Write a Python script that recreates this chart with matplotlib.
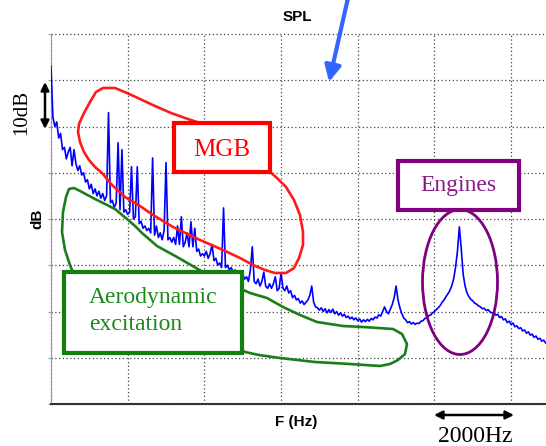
import numpy as np
import matplotlib.pyplot as plt
from matplotlib.patches import Rectangle, Ellipse

# SPECTRE SPL (dB), UN POINT TOUS LES 50 Hz
freq = np.arange(0, 12901, 50)
level = [
    73.0, 62.0, 60.0, 61.0, 57.5, 58.5, 55.0, 55.5, 53.0, 54.5,
    55.5, 51.5, 55.0, 52.0, 50.5, 51.5, 49.5, 50.0, 48.0, 48.5,
    46.5, 47.5, 45.5, 46.5, 45.0, 46.0, 44.5, 45.5, 44.0, 45.0,
    63.0, 43.5, 44.0, 42.5, 43.5, 56.5, 42.0, 55.0, 41.5, 42.0,
    41.0, 41.5, 51.3, 40.0, 40.5, 51.3, 39.0, 39.5, 38.0, 38.5,
    37.5, 38.0, 37.0, 53.2, 36.5, 38.5, 36.0, 37.0, 35.5, 37.5,
    52.2, 35.5, 36.0, 35.0, 36.0, 34.5, 38.5, 34.5, 40.5, 34.0,
    35.0, 37.0, 34.0, 39.4, 34.0, 38.0, 33.0, 33.5, 32.0, 32.5,
    32.0, 33.0, 31.5, 32.5, 34.5, 31.0, 31.5, 30.0, 30.5, 29.5,
    42.4, 29.5, 30.0, 29.0, 29.5, 28.5, 29.0, 28.0, 28.5, 27.5,
    28.0, 27.0, 27.5, 26.5, 29.0, 34.0, 26.5, 26.0, 27.0, 25.5,
    26.5, 28.5, 25.5, 25.0, 26.0, 25.0, 26.0, 27.5, 24.5, 25.0,
    28.4, 25.0, 24.5, 25.5, 24.0, 24.5, 23.0, 23.5, 22.5, 22.8,
    21.8, 22.3, 21.5, 22.0, 22.5, 23.5, 25.5, 22.0, 21.0, 20.8,
    20.3, 20.8, 20.0, 20.6, 19.7, 20.4, 19.8, 20.5, 19.5, 20.0,
    19.2, 19.7, 19.0, 19.4, 18.7, 19.0, 18.4, 18.8, 18.2, 18.6,
    18.0, 18.4, 17.7, 18.2, 17.8, 18.3, 17.9, 18.5, 18.2, 18.8,
    18.6, 19.3, 19.0, 20.0, 21.0, 20.0, 19.5, 20.5, 21.5, 23.0,
    25.5, 22.5, 20.8, 19.5, 18.6, 18.2, 17.6, 17.8, 17.3, 17.6,
    17.2, 17.5, 17.4, 17.9, 18.0, 18.5, 18.6, 19.1, 19.2, 19.7,
    20.0, 20.4, 20.8, 21.3, 22.0, 22.5, 23.2, 23.8, 24.5, 25.5,
    27.0, 29.5, 33.0, 38.3, 33.5, 28.0, 25.5, 24.0, 23.2, 22.6,
    22.3, 21.8, 21.6, 21.2, 21.0, 20.6, 20.7, 20.2, 20.4, 19.9,
    19.7, 19.8, 19.2, 19.4, 18.7, 18.9, 18.2, 18.4, 17.6, 17.9,
    17.2, 17.5, 16.7, 16.9, 16.3, 16.5, 15.8, 16.0, 15.3, 15.6,
    14.9, 15.1, 14.4, 14.7, 14.0, 14.2, 13.6, 13.8, 13.2,
]

x_grid = [0, 2000, 4000, 6000, 8000, 10000, 12000]
y_grid = [0, 10, 20, 30, 40, 50, 60, 70, 80]

fig = plt.figure(figsize=(5.46, 4.46), dpi=100)
ax = fig.add_axes([51 / 546, 42 / 446, 495 / 546, 370 / 446])
ax.plot(freq, level, color='#0000ff', lw=1.2, zorder=3)
ax.set_xlim(0, 12910)
ax.set_ylim(0, 80)
ax.set_xticks(x_grid)
ax.set_yticks(y_grid)
ax.tick_params(labelleft=False, labelbottom=False, bottom=False,
               left=True, length=2, color='#999999')
ax.grid(True, ls=(0, (1, 2)), color='#444444', lw=0.9)
for g in ax.get_ygridlines() + ax.get_xgridlines():
    g.set_clip_on(False)
ax.spines['top'].set_visible(False)
ax.spines['right'].set_visible(False)
ax.spines['left'].set_color('#999999')
ax.spines['bottom'].set_color('#333333')
ax.spines['bottom'].set_linewidth(1.5)

# CALQUE D'ANNOTATIONS EN PIXELS
ov = fig.add_axes([0, 0, 1, 1])
ov.set_xlim(0, 546)
ov.set_ylim(446, 0)
ov.axis('off')
ov.patch.set_alpha(0)

ov.text(297, 17, 'SPL', family='Liberation Sans', weight='bold', fontsize=11,
        ha='center', va='center')
ov.text(296, 422, 'F (Hz)', family='Liberation Sans', weight='bold', fontsize=11,
        ha='center', va='center')
ov.text(37, 219, 'dB', family='Liberation Sans', weight='bold', fontsize=11,
        ha='center', va='center', rotation=90)
ov.text(22, 112, '10dB', family='Liberation Serif', fontsize=15,
        ha='center', va='center', rotation=90)
ov.text(475, 437, '2000Hz', family='Liberation Serif', fontsize=17,
        ha='center', va='center')

ov.annotate('', xy=(45, 82), xytext=(45, 129),
            arrowprops=dict(arrowstyle='<|-|>', color='k', lw=1.8,
                            mutation_scale=12, shrinkA=0, shrinkB=0))
ov.annotate('', xy=(434, 415), xytext=(514, 415),
            arrowprops=dict(arrowstyle='<|-|>', color='k', lw=1.8,
                            mutation_scale=12, shrinkA=0, shrinkB=0))
ov.annotate('', xy=(329, 82), xytext=(348, -2),
            arrowprops=dict(arrowstyle='-|>', color='#3366ff', lw=3,
                            mutation_scale=24, shrinkA=0, shrinkB=0))

# MGB
red_x = [200, 185, 171, 155, 140, 127, 115, 103, 96, 90, 84, 79, 78, 80, 84, 89,
         95, 102, 112, 125, 140, 153, 173, 200, 223, 240, 253, 265, 275, 286,
         294, 299, 303, 303, 300, 294, 286, 277, 268, 240, 200]
red_y = [123, 118, 113, 106, 99, 93, 88, 88, 92, 102, 113, 124, 132, 142, 152, 160,
         167, 173, 185, 197, 206, 215, 227, 240, 250, 258, 265, 270, 273, 273,
         268, 258, 245, 232, 215, 200, 187, 178, 170, 150, 123]
ov.plot(red_x, red_y, color='#ff1a1a', lw=1.9, zorder=2)
ov.add_patch(Rectangle((174, 123), 96, 49, fc='white', ec='#ff0000', lw=3, zorder=5))
ov.text(222, 150, 'MGB', family='Liberation Serif', fontsize=18, color='#ff0000',
        ha='center', va='center', zorder=6)

# AERODYNAMIC
grn_x = [150, 78, 70, 65, 62, 63, 66, 69, 74, 80, 95, 115, 127, 135, 142, 157,
         177, 203, 250, 267, 283, 300, 317, 343, 363, 393, 402, 407, 405, 398,
         390, 380, 350, 315, 280, 259, 245, 230]
grn_y = [300, 285, 265, 250, 232, 212, 197, 189, 188, 191, 199, 209, 219, 226, 233, 246,
         257, 272, 293, 298, 307, 315, 322, 326, 327, 329, 334, 344, 354, 360,
         364, 366, 364, 362, 358, 355, 352, 345]
ov.plot(grn_x, grn_y, color='#1a7f1a', lw=1.9, zorder=2)
ov.add_patch(Rectangle((64, 272), 178, 81, fc='white', ec='#108010', lw=3, zorder=5))
ov.text(89, 298, 'Aerodynamic', family='Liberation Serif', fontsize=17,
        color='#1a8a1a', ha='left', va='center', zorder=6)
ov.text(89, 324, 'excitation', family='Liberation Serif', fontsize=17,
        color='#1a8a1a', ha='left', va='center', zorder=6)

# ENGINES
ov.add_patch(Ellipse((460, 282), 75, 145, fc='none', ec='#800080', lw=2, zorder=4))
ov.add_patch(Rectangle((398, 161), 121, 49, fc='white', ec='#800080', lw=3, zorder=5))
ov.text(458, 186, 'Engines', family='Liberation Serif', fontsize=17,
        color='#8a1a8a', ha='center', va='center', zorder=6)

fig.savefig('out.png', dpi=100)
